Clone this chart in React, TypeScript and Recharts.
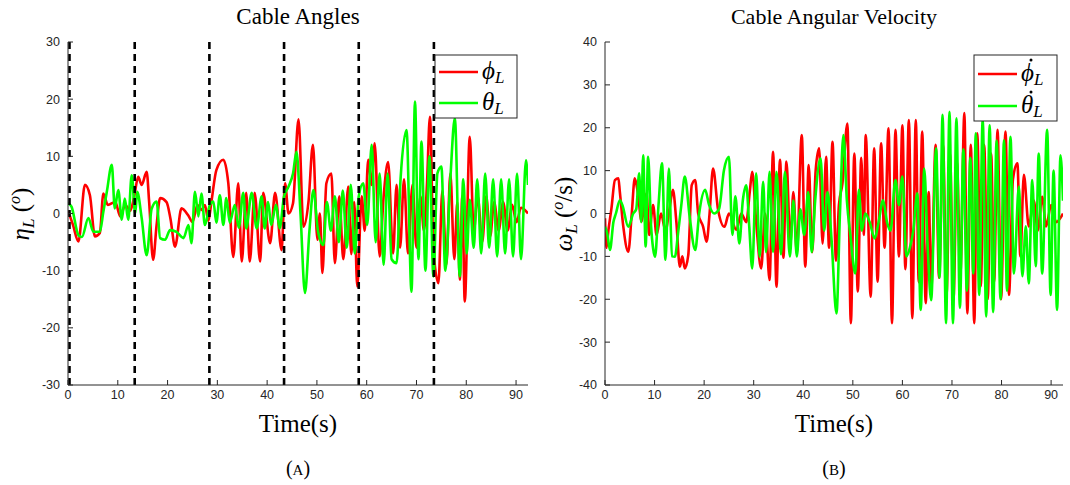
import React from 'react';
import { LineChart, Line, XAxis, YAxis, ReferenceLine } from 'recharts';

// Time ticks
const timeTicks = [0, 10, 20, 30, 40, 50, 60, 70, 80, 90];
const angleTicks = [-30, -20, -10, 0, 10, 20, 30];
const velTicks = [-40, -30, -20, -10, 0, 10, 20, 30, 40];
const phaseLines = [0.3, 13.4, 28.4, 43.4, 58.4, 73.5];

// [time, value] pairs
const phiL: [number, number][] = [
  [0, 0.5], [1.0, -2], [2.1, -4.9], [3.4, 5.0], [4.4, 3.2], [5.4, -4], [6.4, -3.4], [7.1, 3.5], [8.0, 1.5], [9.5, 2],
  [10.5, -0.5], [11.5, 1.5], [12.5, 0.5], [13.3, 3], [14.1, 6.4], [14.8, 5], [15.8, 7.3], [16.3, 2], [17.1, -8.1], [17.8, -2],
  [18.5, 2.7], [19.8, 2], [20.6, -1], [21.5, -5.8], [22.8, 0.9], [24.2, -0.4], [25.0, -1.5], [26.0, 1.5], [26.8, 0.6], [27.5, 1.5],
  [28.2, -1.3], [28.8, 2], [29.8, 7.6], [31.2, 9.4], [32.2, 5.3], [33.2, -7.6], [34.2, 5.3], [34.9, -8.4], [35.8, 3.6], [36.5, -8.4],
  [37.5, 3.6], [38.6, -8.4], [39.2, 3.6], [40.6, -5.2], [41.6, 3.6], [42.9, -6.4], [43.6, 5.3], [44.3, 0], [45.2, 1.8], [46.3, 16.5],
  [47.3, -2.3], [48.3, 2], [49.2, 12], [50.1, -4.6], [50.6, 0], [51.1, -10.4], [51.9, 5.3], [52.9, 7.0], [53.6, -8.7], [54.5, 3],
  [55.3, -8], [56.3, 4.7], [56.9, -7.1], [57.5, 2], [58.1, -12.8], [59.0, 3], [59.6, -3], [60.3, 9.4], [61.0, 5], [61.6, 12.3],
  [62.6, -7.5], [63.4, 3], [64.3, 9], [65.3, -7], [66.0, 5], [66.7, -6], [67.5, 6], [68.3, -7], [69.2, 5], [70.0, -6],
  [70.8, 3], [71.5, -3], [72.1, 5], [72.7, 16.9], [73.4, -6], [74.4, -12.2], [75.2, 4], [76.0, -9], [76.8, 7], [77.6, -8],
  [78.2, 2], [78.7, -11.6], [79.2, 3], [79.7, -15.4], [80.7, 13.4], [81.5, -3], [82.3, 3], [83.2, -5], [84.0, 3], [84.8, -4],
  [85.6, 2], [86.5, -3], [87.4, 2], [88.3, -3], [89.2, 1.5], [90.1, -1.5], [91.0, 1], [92.4, 0],
];

const thetaL: [number, number][] = [
  [0, 1.8], [0.7, 1.2], [2.1, -3.8], [2.8, -4.1], [4.1, -0.8], [5.1, -3.2], [6.4, -3.2], [7.1, 0.3], [7.8, 3.8], [8.8, 8.5],
  [9.4, 0.9], [10.1, 4.1], [10.8, -1.1], [11.4, 2.6], [12.1, -1.1], [12.8, 6.7], [13.5, 0], [13.9, 3.8], [14.8, -0.8], [15.8, -7.3],
  [16.8, 0.8], [17.8, 2.1], [18.5, -4.3], [19.5, -4.6], [20.5, -2.9], [21.8, -3.2], [23.2, -4.3], [24.2, -2.0], [24.8, -5.2], [25.5, 3.8],
  [26.2, -0.5], [26.8, 3.5], [27.5, -2], [28.5, 1.5], [29.2, 2.1], [29.8, -1.6], [30.5, 3.2], [31.2, -2], [31.8, 2.7], [32.5, -1.6],
  [33.5, 1.5], [34.3, -2.5], [35.2, 3.6], [35.8, -2.6], [36.9, 3.6], [37.9, -2.6], [38.9, 3], [39.5, -2.6], [40.2, 2], [40.8, -2],
  [41.8, 1.5], [42.5, -2.6], [43.4, 3], [44.3, 4.7], [45.2, 7], [45.9, 10.8], [46.7, 0], [47.6, -13.9], [48.5, -3], [49.3, 4.1],
  [50.2, -3], [51.3, -5.5], [52.0, 2], [52.8, -3], [53.6, 3], [54.4, -5], [55.2, 4], [56.0, -6], [56.8, 5], [57.6, -7],
  [58.4, 3], [59.3, 5.3], [60.1, -2], [61.0, 12], [61.8, -5], [62.6, 7], [63.4, -9], [64.2, 7], [65.0, -8], [66.0, -8.7],
  [66.8, 6], [68.0, 14.6], [69.0, -13.7], [69.7, 19.6], [70.4, -8], [71.0, 12.6], [71.8, -10], [72.6, 10], [73.4, -11], [74.2, 7],
  [75.0, 8.2], [75.8, -10], [76.8, 6], [77.7, 16.7], [78.7, -11], [79.4, 6], [80.1, -7], [80.7, 2.4], [81.5, -6], [82.2, 6],
  [83.0, -7], [83.8, 7], [84.6, -6], [85.4, 6], [86.2, -7.5], [87.0, 6], [87.8, -7], [88.6, 6], [89.4, -7.5], [90.2, 7],
  [91.0, -8], [92.0, 9.3], [92.4, 5],
];

const phiDot: [number, number][] = [
  [0, -1.1], [0.3, -8], [0.7, -3.8], [1.3, 1.2], [2.0, 7.8], [2.7, 8.2], [3.0, 5], [3.7, -3.1], [4.7, -8.9], [5.4, 0],
  [6.0, 8.2], [6.6, 5], [7.4, -1.9], [8.0, 3], [8.4, 4.7], [8.9, -5], [9.7, 2], [10.4, -5], [11.3, 0], [12.2, -4],
  [13.0, 1], [13.7, 5.5], [14.4, -2], [15.1, -12.4], [15.6, -10], [16.1, -12.8], [16.8, -9.7], [17.5, 6.6], [18.2, 7.8], [18.8, 0],
  [19.8, -3.1], [20.5, -6.6], [21.1, 0], [21.8, 10.5], [22.8, 1], [24.1, -3.1], [25.0, 0], [26.5, -3.8], [27.5, 0], [28.5, -2],
  [29.2, 5], [29.7, 9.7], [30.5, -2], [31.5, -12.8], [32.3, 0], [33.2, -15.5], [33.9, 14.4], [34.6, -17.1], [35.3, 12.5], [36.0, -10.3],
  [36.6, 12.1], [37.4, -7], [38.0, 5], [38.7, -9], [39.7, 18.3], [40.4, -12.4], [41.1, 11.3], [41.8, -9], [42.5, 10], [43.2, 15.2],
  [43.9, -7], [44.6, 13.2], [45.2, -8], [45.9, 16.7], [46.6, -11], [47.2, 2], [47.9, 7], [48.9, 21], [49.6, -25.6], [50.3, 14],
  [51.0, -18.2], [51.7, 13], [52.2, -5], [52.6, 18.3], [53.6, -19.4], [54.3, 15.2], [55.0, -15.9], [55.7, 16.4], [56.4, -8], [57.2, 19.9],
  [57.9, -25.6], [58.6, 19.5], [59.3, -10], [60.0, 20.6], [60.6, -13], [61.3, 21.8], [62.0, -24.4], [62.7, 21.8], [63.3, -16], [64.0, 19.1],
  [64.7, -20.9], [65.3, 5], [65.8, -18], [66.7, 16], [67.4, -15], [68.2, 16], [68.9, -19], [69.6, 14], [70.3, -20], [71.0, 12],
  [71.7, -14], [72.5, 23.4], [73.1, -23.3], [73.8, 16], [74.5, -25.6], [75.1, 18.7], [75.8, -17], [76.5, 16], [77.2, -20], [77.9, 14],
  [78.5, -16], [79.2, 19.5], [79.9, -20], [80.8, 19.1], [81.5, -19], [82.3, 8], [83.2, 11.7], [83.8, -10], [84.5, 9], [85.5, -3],
  [86.5, 3], [87.3, -4], [88.2, 3.9], [89.0, -3], [90.0, 2], [91.0, -2], [92.4, 0],
];

const thetaDot: [number, number][] = [
  [0, -3.1], [0.5, -5], [1.0, -8.5], [1.7, -2], [2.2, 0], [3.0, 3.1], [3.5, 2], [4.7, -3.1], [5.7, 0], [6.3, 1],
  [6.9, 9.4], [7.3, -2], [7.7, 13.6], [8.2, -7.7], [8.7, 13.2], [9.3, -3], [9.7, -8.1], [10.1, -10.1], [10.8, 2], [11.5, 11.7],
  [12.2, -10.8], [12.9, 10.5], [13.5, -10], [14.1, -10.1], [14.7, -5], [15.4, 2], [16.1, 8.6], [17.1, -1], [18.2, -8.5], [19.0, 0],
  [20.2, 5.5], [21.0, 2], [22.0, 0], [23.0, 1], [24.0, 10.1], [25.0, 13.2], [25.7, -5], [26.3, 4], [27.1, -7], [27.8, 3],
  [28.5, 6.6], [29.1, -3], [29.7, -12.8], [30.5, 9.4], [31.2, -10.1], [31.9, 7.4], [32.5, -9], [33.2, 9.7], [33.9, -9], [34.6, 9.7],
  [35.5, -9.5], [36.3, 9.7], [37.3, -10], [38.0, 3], [38.7, -10], [39.4, 1], [40.2, -5], [41.0, 5], [41.7, -9], [42.4, 3],
  [43.5, 12.9], [44.2, -4], [44.9, 5], [45.7, -6], [46.7, -23.3], [47.4, 0], [48.1, 18.3], [48.8, 3], [49.5, -5], [50.5, -14],
  [51.2, 5.5], [51.8, -4], [52.5, 0], [53.4, -2], [54.4, -5.8], [55.2, -2], [56.1, 3.1], [56.9, -2], [57.6, -4], [58.6, 7.8],
  [59.3, 2], [60.0, 8.6], [60.8, -10], [61.5, -8], [62.2, -4], [63.0, 4.7], [63.7, -22.5], [64.4, 10.5], [65.1, -8], [65.8, -20.2],
  [66.8, 15.2], [67.5, -15], [68.1, 23], [68.8, -25.6], [69.5, 23.7], [70.2, -25.6], [70.9, 22.2], [71.6, -22], [72.3, 15], [73.0, -18],
  [73.7, 13], [74.3, -14], [74.8, 18.7], [75.5, -19], [76.2, 22], [76.9, -24], [77.6, 20.6], [78.3, -23], [79.0, 17], [79.8, -20],
  [80.5, 17.1], [81.1, -18], [81.8, 17.9], [82.5, -14], [83.5, 6.3], [84.2, -14.6], [84.9, -3], [85.5, -16.3], [86.2, 7.8], [86.9, -12.3],
  [87.5, 14], [88.2, -14], [89.2, 19.5], [89.9, -19], [90.5, 10], [91.2, -22.5], [91.9, 13.6], [92.4, 3],
];

const toRows = (arr: [number, number][]) => arr.map(([t, v]) => ({ t, v }));

const AX = '#262626';
const SERIF = '"Liberation Serif", "DejaVu Serif", serif';
const SANS = '"Liberation Sans", Arial, sans-serif';
const RED = '#ff0000';
const GREEN = '#00ff00';
const XMAX = 92.4;

type PanelProps = {
  yTicks: number[];
  yDomain: [number, number];
  series: { data: [number, number][]; color: string; key: string }[];
  vlines?: number[];
  marginLeft: number;
};

function Panel({ yTicks, yDomain, series, vlines, marginLeft }: PanelProps) {
  const tickStyle = { fill: AX, fontSize: 12.5, fontFamily: SANS };
  return (
    <LineChart width={540} height={420} margin={{ top: 42, right: 12, bottom: 10, left: marginLeft }}>
      <XAxis
        xAxisId={0}
        type="number"
        dataKey="t"
        domain={[0, XMAX]}
        ticks={timeTicks}
        allowDataOverflow
        height={25}
        tickSize={-5}
        tickMargin={10}
        stroke={AX}
        tick={tickStyle}
        interval={0}
      />
      <XAxis
        xAxisId="top"
        orientation="top"
        type="number"
        dataKey="t"
        domain={[0, XMAX]}
        ticks={timeTicks}
        allowDataOverflow
        height={0}
        tickSize={-5}
        stroke={AX}
        tickFormatter={() => ''}
        interval={0}
      />
      <YAxis
        yAxisId={0}
        type="number"
        domain={yDomain}
        ticks={yTicks}
        allowDataOverflow
        width={40}
        tickSize={-5}
        tickMargin={13}
        stroke={AX}
        tick={tickStyle}
        interval={0}
      />
      <YAxis
        yAxisId="right"
        orientation="right"
        type="number"
        domain={yDomain}
        ticks={yTicks}
        allowDataOverflow
        width={0}
        tickSize={-5}
        stroke={AX}
        tickFormatter={() => ''}
        interval={0}
      />
      {series.map((s) => (
        <Line
          key={s.key}
          data={toRows(s.data)}
          dataKey="v"
          type="monotone"
          stroke={s.color}
          strokeWidth={2.6}
          dot={false}
          activeDot={false}
          isAnimationActive={false}
        />
      ))}
      {(vlines || []).map((x) => (
        <ReferenceLine key={x} x={x} stroke="#000" strokeWidth={2.6} strokeDasharray="7 5" />
      ))}
    </LineChart>
  );
}

function Sub({ children, size = 17, dy = 5 }: { children: React.ReactNode; size?: number; dy?: number }) {
  return (
    <tspan fontStyle="italic" fontSize={size} dy={dy}>
      {children}
    </tspan>
  );
}

function LegendEntry({ x, y, color, glyph, dotted }: { x: number; y: number; color: string; glyph: string; dotted?: boolean }) {
  return (
    <g>
      <line x1={x} x2={x + 39} y1={y} y2={y} stroke={color} strokeWidth={2.6} />
      <text x={x + 43} y={y + 7} fontSize={25} fontFamily={SERIF}>
        <tspan fontStyle="italic">{glyph}</tspan>
        <Sub dy={4}>L</Sub>
      </text>
      {dotted && <circle cx={x + 53} cy={y - 14} r={1.5} fill="#000" />}
    </g>
  );
}

export default function App() {
  return (
    <div style={{ position: 'absolute', left: 0, top: 0, width: 1070, height: 485, background: '#fff', overflow: 'hidden' }}>
      <div style={{ position: 'absolute', left: 0, top: 0 }}>
        <Panel
          yTicks={angleTicks}
          yDomain={[-30, 30]}
          marginLeft={28}
          series={[
            { data: phiL, color: RED, key: 'phi' },
            { data: thetaL, color: GREEN, key: 'theta' },
          ]}
          vlines={phaseLines}
        />
      </div>
      <div style={{ position: 'absolute', left: 535, top: 0 }}>
        <Panel
          yTicks={velTicks}
          yDomain={[-40, 40]}
          marginLeft={30}
          series={[
            { data: phiDot, color: RED, key: 'phidot' },
            { data: thetaDot, color: GREEN, key: 'thetadot' },
          ]}
        />
      </div>
      <svg width={1070} height={485} style={{ position: 'absolute', left: 0, top: 0, pointerEvents: 'none' }}>
        <g fontFamily={SERIF} fill="#000">
          <text x={298} y={24} textAnchor="middle" fontSize={23}>Cable Angles</text>
          <text x={834} y={24} textAnchor="middle" fontSize={22}>Cable Angular Velocity</text>
          <text x={298} y={432} textAnchor="middle" fontSize={25}>Time(s)</text>
          <text x={834} y={432} textAnchor="middle" fontSize={25}>Time(s)</text>
          <text x={298} y={475} textAnchor="middle" fontSize={20}>
            (<tspan fontSize={15}>A</tspan>)
          </text>
          <text x={834} y={475} textAnchor="middle" fontSize={20}>
            (<tspan fontSize={15}>B</tspan>)
          </text>
          <text transform="translate(29,214) rotate(-90)" textAnchor="middle" fontSize={25}>
            <tspan fontStyle="italic">η</tspan>
            <Sub>L</Sub>
            <tspan dy={-5}> (</tspan>
            <tspan fontStyle="italic" fontSize={16} dy={-9}>o</tspan>
            <tspan dy={9}>)</tspan>
          </text>
          <text transform="translate(572,214) rotate(-90)" textAnchor="middle" fontSize={25}>
            <tspan fontStyle="italic">ω</tspan>
            <Sub>L</Sub>
            <tspan dy={-5}> (</tspan>
            <tspan fontStyle="italic" fontSize={16} dy={-9}>o</tspan>
            <tspan dy={9}>/s)</tspan>
          </text>
        </g>
        {/* Legend A */}
        <rect x={435} y={55} width={82} height={63} fill="#fff" stroke={AX} strokeWidth={1} />
        <LegendEntry x={439} y={72} color={RED} glyph="ϕ" />
        <LegendEntry x={439} y={103} color={GREEN} glyph="θ" />
        {/* Legend B */}
        <rect x={974} y={55} width={83} height={66} fill="#fff" stroke={AX} strokeWidth={1} />
        <LegendEntry x={978} y={74} color={RED} glyph="ϕ" dotted />
        <LegendEntry x={978} y={106} color={GREEN} glyph="θ" dotted />
      </svg>
    </div>
  );
}
